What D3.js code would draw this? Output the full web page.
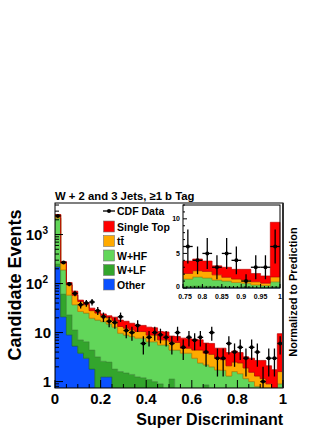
<!DOCTYPE html>
<html>
<head>
<meta charset="utf-8">
<script src="https://cdn.jsdelivr.net/npm/d3@7"></script>
<style>
body { margin: 0; background: #fff; }
text { font-family: "Liberation Sans", Arial, Helvetica, sans-serif; font-weight: bold; fill: #000; }
</style>
</head>
<body>
<svg id="chart" width="332" height="430"></svg>
<script>
// 40 bins of 0.025 over the super discriminant
var binWidth = 0.025;
var binLow = d3.range(40).map(function(i) { return i * binWidth; });

var other     = [220, 21, 9, 5.3, 3.8, 3.0, 1.8, 0.5, 1.25, 1.25,
                 0.3, 0.2, 0.2, 0.2, 0.15, 0.15, 0.1, 0.1, 0.1, 0.1,
                 0.1, 0.1, 0.05, 0.05, 0.05, 0.05, 0.05, 0.05, 0.05, 0.05,
                 0.05, 0.05, 0.05, 0.05, 0.05, 0.05, 0.05, 0.05, 0.05, 0.05];
var wlf       = [30, 40, 14, 6, 3.3, 3.5, 2.6, 2.7, 1.35, 1.25,
                 1.5, 1.4, 1.3, 1.2, 1.1, 1.05, 1.0, 0.9, 0.8, 0.5,
                 1.03, 0.4, 0.4, 0.35, 0.35, 0.4, 0.81, 0.3, 0.25, 0.25,
                 0.2, 0.25, 0.2, 0.15, 0.15, 0.1, 0.15, 0.05, 0.05, 0.15];
var whf       = [1910, 129, 35, 25.7, 19.9, 18.5, 15.2, 14.8, 14.1, 12.5,
                 11.1, 8.1, 7.4, 6.9, 6.45, 6.5, 5.4, 5.5, 4.7, 5.0,
                 3.27, 3.9, 3.35, 3.4, 2.6, 1.95, 1.34, 1.65, 1.43, 1.4,
                 1.05, 1.3, 1.2, 0.95, 0.8, 0.65, 0.5, 0.35, 0.25, 0.7];
var ttbar     = [370, 71, 36, 21, 16, 12, 8.4, 7, 5.3, 5,
                 4.6, 3.6, 3.4, 3.1, 2.8, 2.8, 2.4, 2.4, 1.5, 1.5,
                 2.1, 1.9, 1.0, 1.0, 1.4, 2.0, 1.6, 1.6, 1.27, 1.1,
                 0.8, 0.9, 0.95, 0.75, 0.55, 0.5, 0.45, 0.45, 0.35, 0.7];
var singleTop = [30, 20, 11, 12, 3, 4, 3.5, 3, 2, 2,
                 3.1, 4.7, 4.7, 4.1, 3.8, 3.5, 4.0, 3.6, 3.4, 3.2,
                 2.0, 2.0, 2.9, 2.7, 2.9, 2.7, 2.3, 2.4, 1.8, 2.0,
                 1.8, 1.7, 1.5, 1.3, 1.45, 1.4, 1.55, 1.2, 1.05, 7.9];
var cdfData   = [2400, 270, 98, 63, 37, 40, 42, 28, 21, 17,
                 16, 21, 11, 10, 14, 6, 8, 10, 9, 8,
                 6, 10, 5, 8, 7, 8, 4, 10, 3, 3,
                 6, 4, 5, 3, 5, 4, 1, 3, 3, 6];

var keys   = ["other", "wlf", "whf", "ttbar", "singleTop"];
var colors = {other: "#0a50ff", wlf: "#33a52c", whf: "#62d65a", ttbar: "#ffaa00", singleTop: "#ff0000"};
var legendLabels = ["CDF Data", "Single Top", "tt\u0304", "W+HF", "W+LF", "Other"];
var legendKeys   = [null, "singleTop", "ttbar", "whf", "wlf", "other"];

var xTicks = [0, 0.2, 0.4, 0.6, 0.8, 1];
var yTicks = [1, 10, 100, 1000];
var insetXTicks = [0.75, 0.8, 0.85, 0.9, 0.95, 1];
var insetYTicks = [0, 5, 10];

var rows = binLow.map(function(lo, i) {
  return {lo: lo, hi: lo + binWidth, other: other[i], wlf: wlf[i], whf: whf[i],
          ttbar: ttbar[i], singleTop: singleTop[i], data: cdfData[i]};
});
var series = d3.stack().keys(keys)(rows);

var svg = d3.select("#chart");

var x = d3.scaleLinear().domain([0, 1]).range([55, 283]);
var y = d3.scaleLog().domain([0.74, 4400]).range([388, 203]).clamp(true);
var yMin = 0.5;

svg.append("clipPath").attr("id", "mainclip")
  .append("rect").attr("x", x(0)).attr("y", y(4400)).attr("width", x(1) - x(0)).attr("height", y(0.74) - y(4400));

function stepPoints(s, filt) {
  var pts = [];
  s.forEach(function(d) {
    if (filt && !filt(d.data)) return;
    pts.push({x: d.data.lo, y0: d[0], y1: d[1]});
    pts.push({x: d.data.hi, y0: d[0], y1: d[1]});
  });
  return pts;
}

var main = svg.append("g").attr("clip-path", "url(#mainclip)");
var area = d3.area()
  .x(function(d) { return x(d.x); })
  .y0(function(d) { return y(Math.max(d.y0, yMin)); })
  .y1(function(d) { return y(Math.max(d.y1, yMin)); });

series.forEach(function(s) {
  main.append("path")
    .attr("d", area(stepPoints(s)))
    .attr("fill", colors[s.key])
    .attr("stroke", d3.color(colors[s.key]).darker(0.9))
    .attr("stroke-width", 0.7);
});

// data points with Poisson errors
function drawData(g, xs, ys, list) {
  list.forEach(function(r) {
    var n = r.data, e = Math.sqrt(n), cx = xs((r.lo + r.hi) / 2);
    g.append("line").attr("x1", xs(r.lo)).attr("x2", xs(r.hi)).attr("y1", ys(n)).attr("y2", ys(n))
      .attr("stroke", "#000").attr("stroke-width", 1.3);
    g.append("line").attr("x1", cx).attr("x2", cx).attr("y1", ys(Math.max(n - e, yMin > 0 ? 0.01 : 0))).attr("y2", ys(n + e))
      .attr("stroke", "#000").attr("stroke-width", 1.3);
    g.append("circle").attr("cx", cx).attr("cy", ys(n)).attr("r", 2).attr("fill", "#000");
  });
}
drawData(main, x, y, rows);

// frame
svg.append("rect").attr("x", x(0)).attr("y", y(4400)).attr("width", x(1) - x(0)).attr("height", y(0.74) - y(4400))
  .attr("fill", "none").attr("stroke", "#000").attr("stroke-width", 1);
svg.append("line").attr("x1", x(1)).attr("x2", x(1)).attr("y1", y(4400)).attr("y2", y(0.74))
  .attr("stroke", "#333").attr("stroke-width", 2);

// x ticks
x.ticks(20).forEach(function(t) {
  var major = xTicks.some(function(m) { return Math.abs(m - t) < 1e-6; });
  svg.append("line").attr("x1", x(t)).attr("x2", x(t)).attr("y1", 388).attr("y2", 388 - (major ? 8 : 4))
    .attr("stroke", "#000");
});
xTicks.forEach(function(t) {
  svg.append("text").attr("x", x(t)).attr("y", 404).attr("text-anchor", "middle")
    .style("font-size", "15px").text(t);
});

// y ticks
y.ticks().forEach(function(t) {
  var major = yTicks.indexOf(t) >= 0;
  svg.append("line").attr("x1", 55).attr("x2", 55 + (major ? 8 : 4)).attr("y1", y(t)).attr("y2", y(t))
    .attr("stroke", "#000");
});
yTicks.forEach(function(t) {
  var e = Math.round(Math.log10(t));
  var tx = svg.append("text").attr("text-anchor", "end").style("font-size", "15px");
  if (e < 2) {
    tx.attr("x", 51).attr("y", y(t) + 5.5).text(t);
  } else {
    tx.attr("x", 48).attr("y", y(t) + 5.5).text("10");
    tx.append("tspan").attr("dy", -6).style("font-size", "10px").text(e);
  }
});

// axis titles
svg.append("text").attr("x", 283).attr("y", 425).attr("text-anchor", "end")
  .style("font-size", "16px").text("Super Discriminant");
svg.append("text").attr("transform", "translate(21,285) rotate(-90)").attr("text-anchor", "middle")
  .style("font-size", "18px").text("Candidate Events");
svg.append("text").attr("x", 55).attr("y", 200).style("font-size", "11.3px")
  .text("W + 2 and 3 Jets, \u22651 b Tag");
svg.append("text").attr("transform", "translate(297,292) rotate(-90)").attr("text-anchor", "middle")
  .style("font-size", "11px").text("Normalized to Prediction");

// legend
var leg = svg.append("g");
legendLabels.forEach(function(lab, i) {
  var cy = i === 0 ? 211 : 226.5 + (i - 1) * 14.5;
  if (legendKeys[i] === null) {
    leg.append("line").attr("x1", 103).attr("x2", 115).attr("y1", cy).attr("y2", cy).attr("stroke", "#000").attr("stroke-width", 1.3);
    leg.append("circle").attr("cx", 109).attr("cy", cy).attr("r", 2).attr("fill", "#000");
  } else {
    leg.append("rect").attr("x", 103.5).attr("y", cy - 5.5).attr("width", 11).attr("height", 11)
      .attr("fill", colors[legendKeys[i]]).attr("stroke", "#777").attr("stroke-width", 0.6);
  }
  leg.append("text").attr("x", 117).attr("y", cy + 4).style("font-size", "10.5px").text(lab);
});

// inset: last ten bins on a linear scale
var xi = d3.scaleLinear().domain([0.75, 1]).range([183, 280]);
var yi = d3.scaleLinear().domain([0, 12]).range([288, 205]);
var inset = svg.append("g");
inset.append("rect").attr("x", xi(0.75)).attr("y", yi(12)).attr("width", xi(1) - xi(0.75)).attr("height", yi(0) - yi(12))
  .attr("fill", "#fff");
var inFilt = function(r) { return r.lo >= 0.75 - 1e-9; };
var areaI = d3.area()
  .x(function(d) { return xi(d.x); })
  .y0(function(d) { return yi(d.y0); })
  .y1(function(d) { return yi(d.y1); });
series.forEach(function(s) {
  inset.append("path")
    .attr("d", areaI(stepPoints(s, inFilt)))
    .attr("fill", colors[s.key])
    .attr("stroke", d3.color(colors[s.key]).darker(0.9))
    .attr("stroke-width", 0.6);
});
yMin = 0;
drawData(inset, xi, yi, rows.filter(inFilt));
inset.append("rect").attr("x", xi(0.75)).attr("y", yi(12)).attr("width", xi(1) - xi(0.75)).attr("height", yi(0) - yi(12))
  .attr("fill", "none").attr("stroke", "#000").attr("stroke-width", 1);
xi.ticks(25).forEach(function(t) {
  var major = insetXTicks.some(function(m) { return Math.abs(m - t) < 1e-6; });
  inset.append("line").attr("x1", xi(t)).attr("x2", xi(t)).attr("y1", 288).attr("y2", 288 - (major ? 4 : 2)).attr("stroke", "#000");
});
yi.ticks(12).forEach(function(t) {
  var major = insetYTicks.indexOf(t) >= 0;
  inset.append("line").attr("x1", 183).attr("x2", 183 + (major ? 4 : 2)).attr("y1", yi(t)).attr("y2", yi(t)).attr("stroke", "#000");
});
insetXTicks.forEach(function(t) {
  inset.append("text").attr("x", xi(t) + (t === 0.75 ? 2 : 0)).attr("y", 298.5).attr("text-anchor", "middle")
    .style("font-size", "7px").text(t);
});
insetYTicks.forEach(function(t) {
  inset.append("text").attr("x", 180).attr("y", yi(t) + (t === 0 ? 1 : 2.5)).attr("text-anchor", "end")
    .style("font-size", "7px").text(t);
});
</script>
</body>
</html>
